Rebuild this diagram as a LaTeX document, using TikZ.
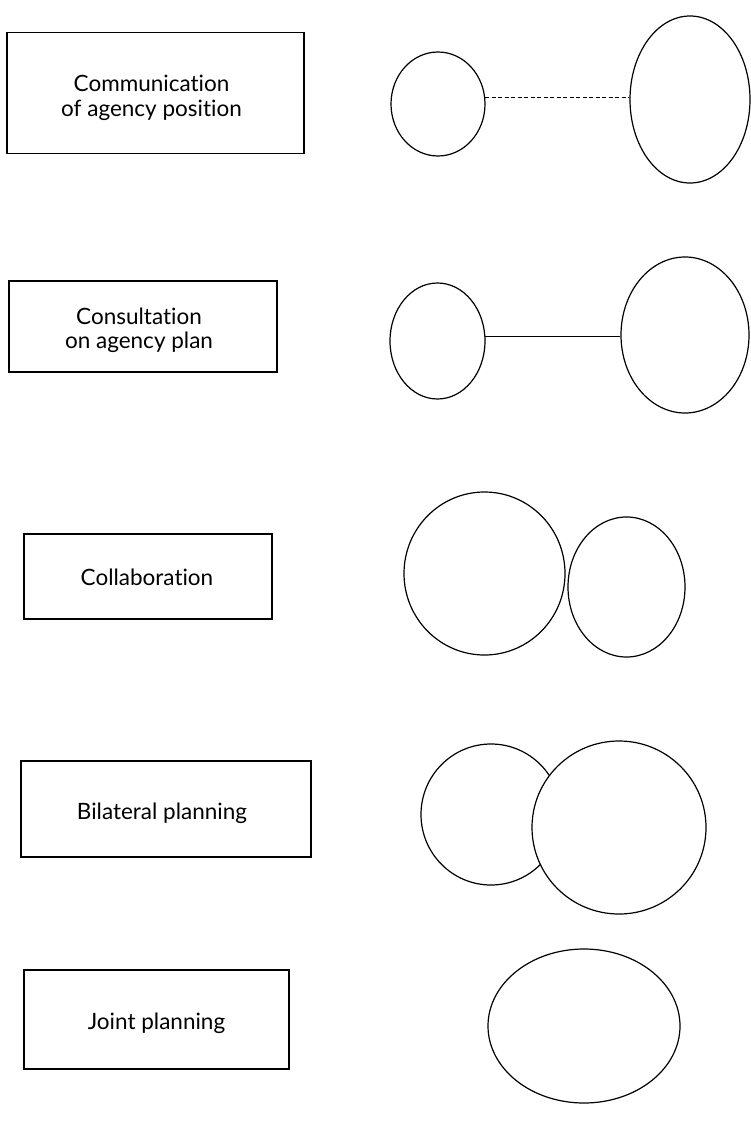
\documentclass[tikz,border=0pt]{standalone}
\usepackage{fontspec}
\setmainfont{Lato}[Ligatures={NoCommon,NoContextual}]
\usetikzlibrary{shapes.geometric}
\begin{document}
\begin{tikzpicture}[x=1pt,y=-1pt,
  levelbox/.style={draw=black, line width=1.2pt, rectangle, inner sep=0pt},
  lbl/.style={inner sep=0pt, align=center, font=\fontsize{22.5}{24.5}\selectfont},
  lbl1/.style={lbl, text height=16pt, text depth=0pt},
  blob/.style={draw=black, line width=1.2pt, ellipse, inner sep=0pt, fill=white},
  link/.style={draw=black, line width=0.9pt}]
\useasboundingbox (0,0) rectangle (751,1134);
% boxes
\node[levelbox, minimum width=297pt, minimum height=121pt] (b1) at (155.5,93) {};
\node[levelbox, minimum width=268pt, minimum height=91pt] (b2) at (143,326.5) {};
\node[levelbox, minimum width=248pt, minimum height=85pt] (b3) at (148,576.5) {};
\node[levelbox, minimum width=290pt, minimum height=96pt] (b4) at (166,809) {};
\node[levelbox, minimum width=265pt, minimum height=99pt] (b5) at (156.5,1019.5) {};
% labels
\node[lbl] (t1) at ([xshift=-4pt,yshift=-5pt]b1.center) {Communication\\of agency position};
\node[lbl] (t2) at ([xshift=-4pt,yshift=-4pt]b2.center) {Consultation\\on agency plan};
\node[lbl1] (t3) at ([xshift=-1pt,yshift=-1pt]b3.center) {Collaboration};
\node[lbl1] (t4) at ([xshift=-4pt,yshift=-2pt]b4.center) {Bilateral planning};
\node[lbl1] (t5) at ([xshift=0pt,yshift=-2pt]b5.center) {Joint planning};
% row 1
\node[blob, minimum width=94pt, minimum height=104pt] (e1a) at (438,104) {};
\node[blob, minimum width=120pt, minimum height=167pt] (e1b) at (690,99.5) {};
\draw[link, dash pattern=on 4pt off 2.5pt] (e1a.8.5) -- (e1a.8.5 -| e1b.west);
% row 2
\node[blob, minimum width=95pt, minimum height=116pt] (e2a) at (437.5,341) {};
\node[blob, minimum width=128pt, minimum height=156pt] (e2b) at (685,335) {};
\draw[link] (e2a.5.5) -- (e2a.5.5 -| e2b.west);
% row 3
\node[blob, minimum width=161pt, minimum height=163pt] (e3a) at (484.5,573.5) {};
\node[blob, minimum width=117pt, minimum height=140pt] (e3b) at (626.5,587) {};
% row 4
\node[blob, minimum width=140pt, minimum height=141pt] (e4a) at (491,814.5) {};
\node[blob, minimum width=174pt, minimum height=173pt] (e4b) at (619,827.5) {};
% row 5
\node[blob, minimum width=192pt, minimum height=154pt] (e5) at (584,1026) {};
\end{tikzpicture}
\end{document}
